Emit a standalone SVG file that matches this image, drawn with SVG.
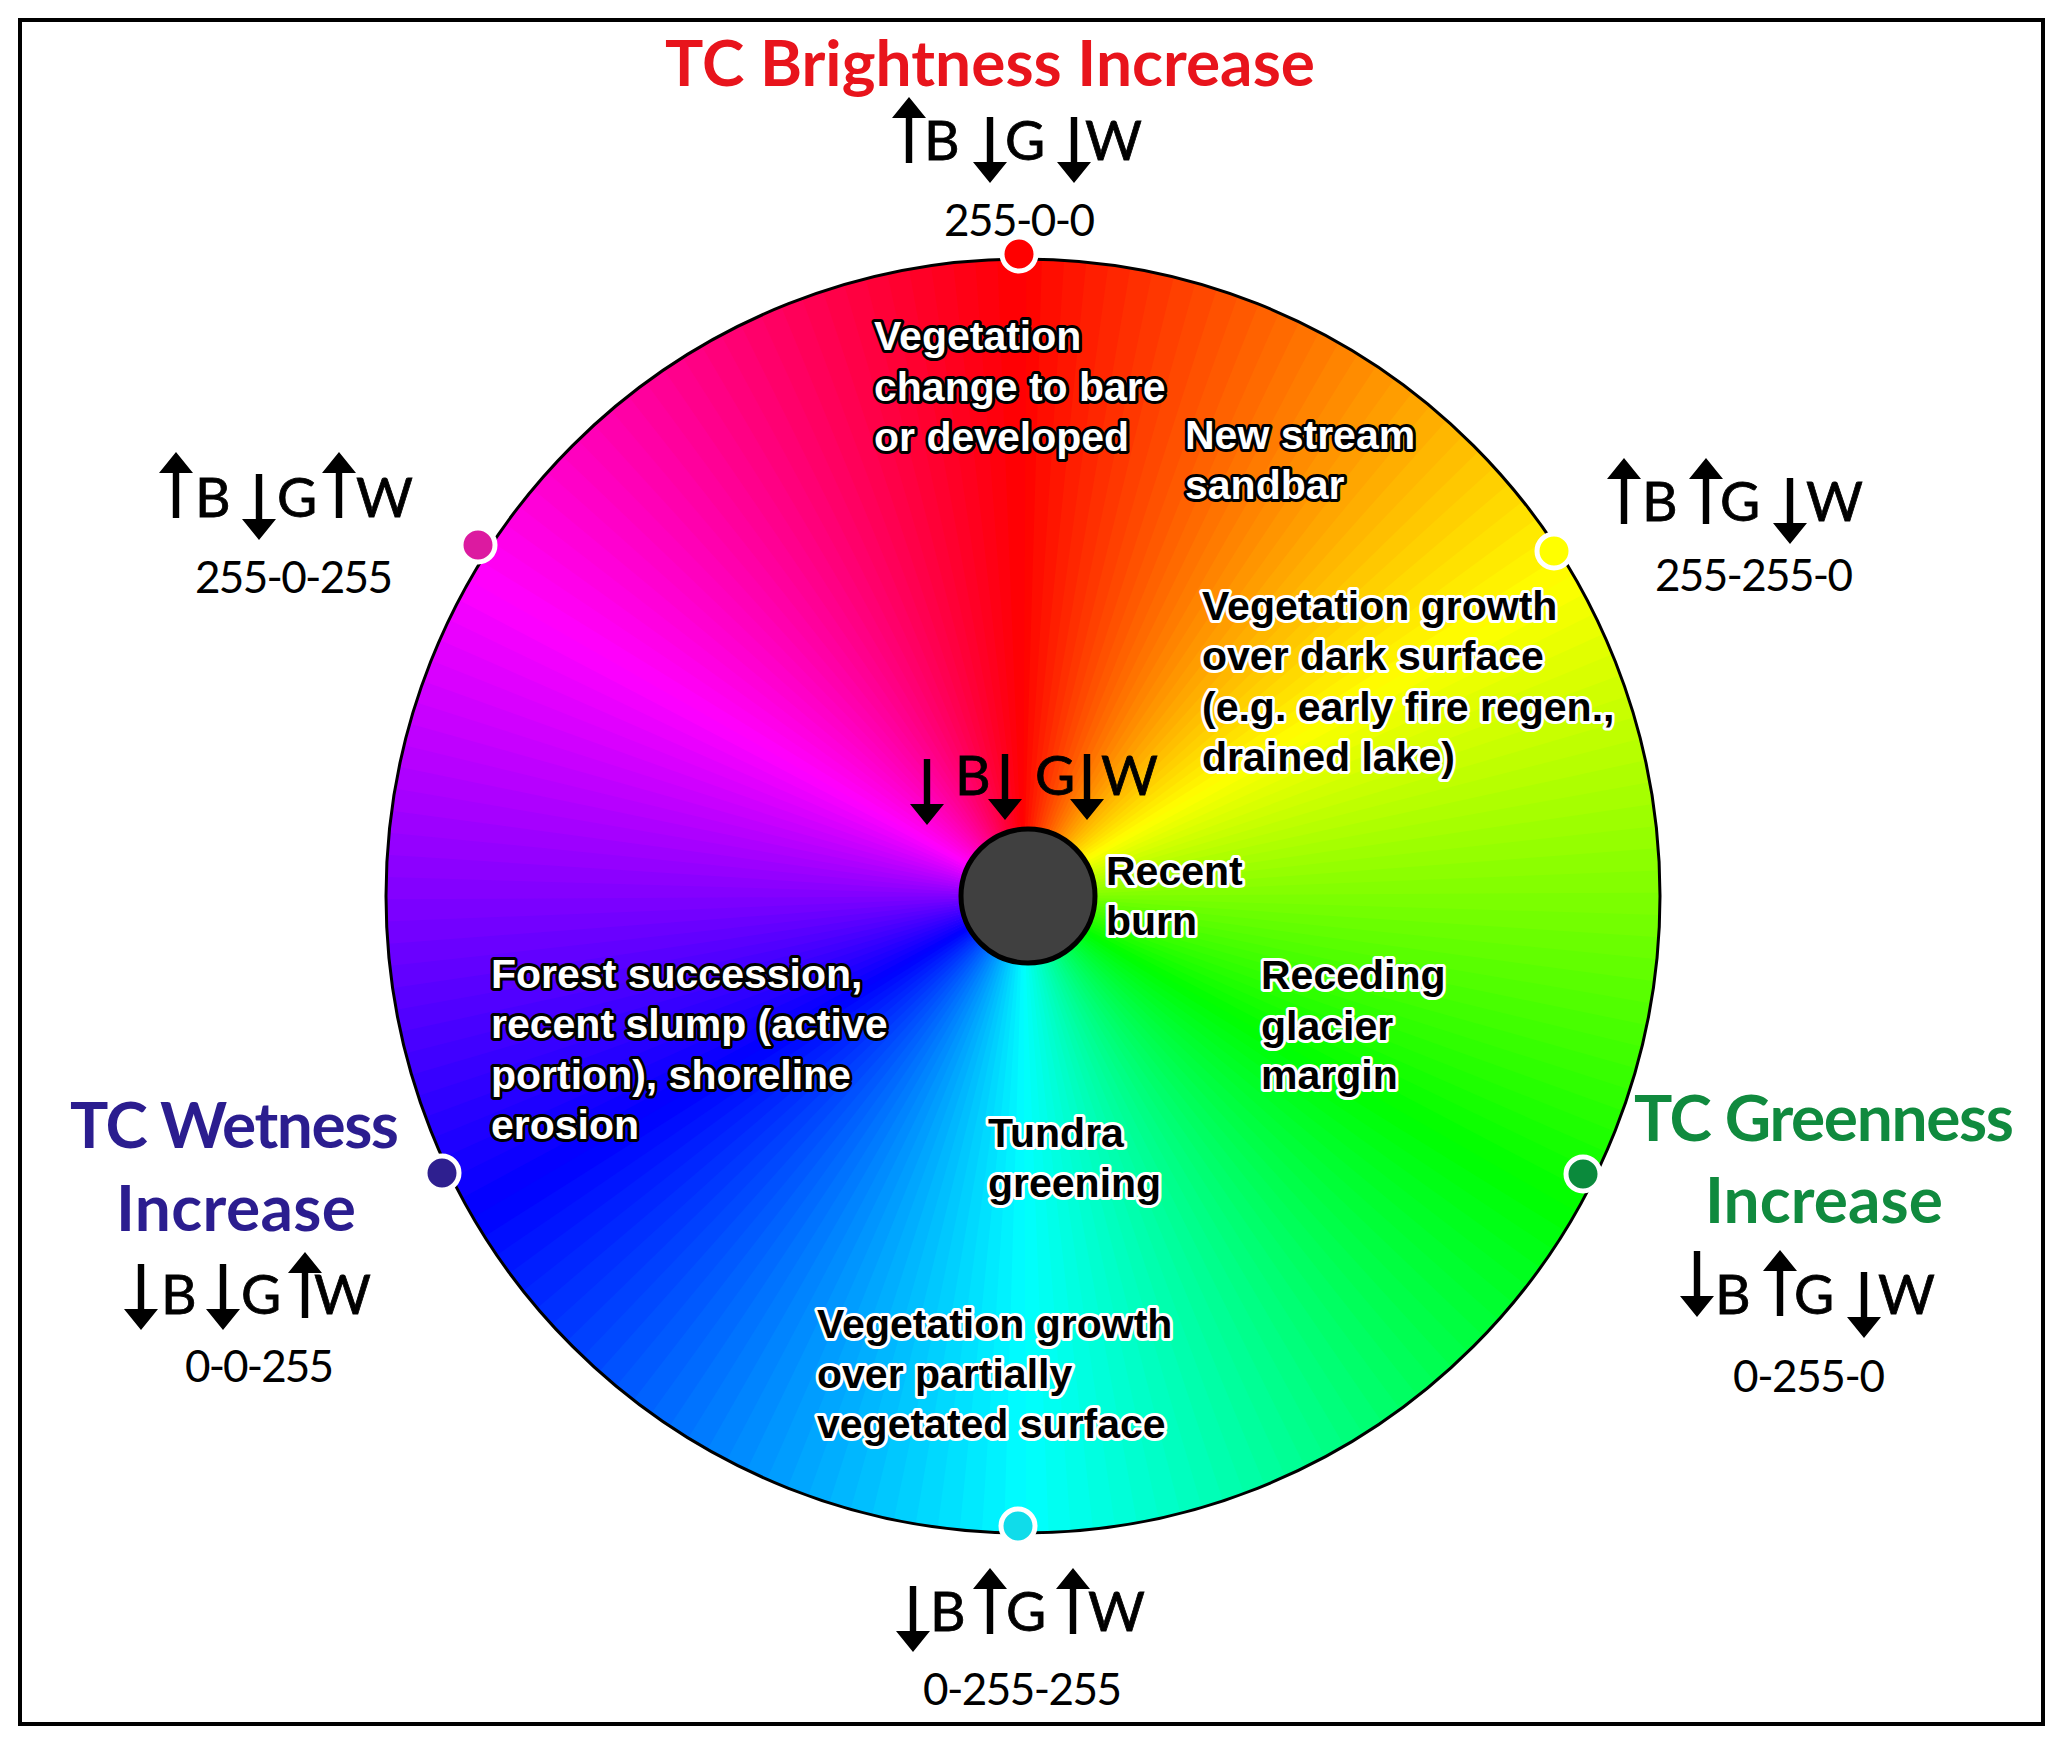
<svg xmlns="http://www.w3.org/2000/svg" xmlns:xlink="http://www.w3.org/1999/xlink" width="2067" height="1746" viewBox="0 0 2067 1746">
<style>
.ttl{font-family:Lato,"Open Sans",sans-serif;font-weight:700;font-size:64px}
.let{font-family:Lato,"Open Sans",sans-serif;font-size:55px;fill:#000;stroke:#000;stroke-width:0.8}
.num{font-family:Lato,"Open Sans",sans-serif;font-size:44px;fill:#000}
.lw{font-family:"Liberation Sans",Arial,sans-serif;font-weight:700;font-size:41px;fill:#fff;stroke:#000;stroke-width:6;paint-order:stroke;stroke-linejoin:round}
.lb{font-family:"Liberation Sans",Arial,sans-serif;font-weight:700;font-size:41px;fill:#000;stroke:#fff;stroke-width:6;paint-order:stroke;stroke-linejoin:round}
.dot{stroke:#fff;stroke-width:5}
</style>
<defs>
<path id="w" d="M0 0L-3.4 -645L25.9 -644.5Z"/>
<path id="up" d="M0 0L17 21H3.2V66H-3.2V21H-17Z"/>
<path id="dn" d="M0 0L17 -21H3.2V-66H-3.2V-21H-17Z"/>
<clipPath id="cc"><circle cx="0" cy="0" r="637"/></clipPath>
</defs>
<rect x="0" y="0" width="2067" height="1746" fill="#fff"/>
<rect x="20" y="20" width="2023" height="1704" fill="none" stroke="#000" stroke-width="4"/>
<g id="wheel">
<g transform="translate(1023 896)" clip-path="url(#cc)">
<use href="#w" fill="#ff0400"/><use href="#w" transform="rotate(2)" fill="#ff0d00"/><use href="#w" transform="rotate(4)" fill="#ff1500"/><use href="#w" transform="rotate(6)" fill="#ff1e00"/><use href="#w" transform="rotate(8)" fill="#ff2600"/><use href="#w" transform="rotate(10)" fill="#ff2f00"/><use href="#w" transform="rotate(12)" fill="#ff3700"/><use href="#w" transform="rotate(14)" fill="#ff4000"/><use href="#w" transform="rotate(16)" fill="#ff4800"/><use href="#w" transform="rotate(18)" fill="#ff5100"/>
<use href="#w" transform="rotate(20)" fill="#ff5900"/><use href="#w" transform="rotate(22)" fill="#ff6200"/><use href="#w" transform="rotate(24)" fill="#ff6a00"/><use href="#w" transform="rotate(26)" fill="#ff7300"/><use href="#w" transform="rotate(28)" fill="#ff7b00"/><use href="#w" transform="rotate(30)" fill="#ff8400"/><use href="#w" transform="rotate(32)" fill="#ff8c00"/><use href="#w" transform="rotate(34)" fill="#ff9500"/><use href="#w" transform="rotate(36)" fill="#ff9d00"/><use href="#w" transform="rotate(38)" fill="#ffa600"/>
<use href="#w" transform="rotate(40)" fill="#ffae00"/><use href="#w" transform="rotate(42)" fill="#ffb700"/><use href="#w" transform="rotate(44)" fill="#ffbf00"/><use href="#w" transform="rotate(46)" fill="#ffc800"/><use href="#w" transform="rotate(48)" fill="#ffd000"/><use href="#w" transform="rotate(50)" fill="#ffd900"/><use href="#w" transform="rotate(52)" fill="#ffe100"/><use href="#w" transform="rotate(54)" fill="#ffea00"/><use href="#w" transform="rotate(56)" fill="#fff200"/><use href="#w" transform="rotate(58)" fill="#fffb00"/>
<use href="#w" transform="rotate(60)" fill="#fbff00"/><use href="#w" transform="rotate(62)" fill="#f2ff00"/><use href="#w" transform="rotate(64)" fill="#eaff00"/><use href="#w" transform="rotate(66)" fill="#e1ff00"/><use href="#w" transform="rotate(68)" fill="#d9ff00"/><use href="#w" transform="rotate(70)" fill="#d0ff00"/><use href="#w" transform="rotate(72)" fill="#c8ff00"/><use href="#w" transform="rotate(74)" fill="#bfff00"/><use href="#w" transform="rotate(76)" fill="#b7ff00"/><use href="#w" transform="rotate(78)" fill="#aeff00"/>
<use href="#w" transform="rotate(80)" fill="#a6ff00"/><use href="#w" transform="rotate(82)" fill="#9dff00"/><use href="#w" transform="rotate(84)" fill="#95ff00"/><use href="#w" transform="rotate(86)" fill="#8cff00"/><use href="#w" transform="rotate(88)" fill="#84ff00"/><use href="#w" transform="rotate(90)" fill="#7bff00"/><use href="#w" transform="rotate(92)" fill="#73ff00"/><use href="#w" transform="rotate(94)" fill="#6aff00"/><use href="#w" transform="rotate(96)" fill="#62ff00"/><use href="#w" transform="rotate(98)" fill="#59ff00"/>
<use href="#w" transform="rotate(100)" fill="#51ff00"/><use href="#w" transform="rotate(102)" fill="#48ff00"/><use href="#w" transform="rotate(104)" fill="#40ff00"/><use href="#w" transform="rotate(106)" fill="#37ff00"/><use href="#w" transform="rotate(108)" fill="#2fff00"/><use href="#w" transform="rotate(110)" fill="#26ff00"/><use href="#w" transform="rotate(112)" fill="#1eff00"/><use href="#w" transform="rotate(114)" fill="#15ff00"/><use href="#w" transform="rotate(116)" fill="#0dff00"/><use href="#w" transform="rotate(118)" fill="#04ff00"/>
<use href="#w" transform="rotate(120)" fill="#00ff04"/><use href="#w" transform="rotate(122)" fill="#00ff0d"/><use href="#w" transform="rotate(124)" fill="#00ff15"/><use href="#w" transform="rotate(126)" fill="#00ff1e"/><use href="#w" transform="rotate(128)" fill="#00ff26"/><use href="#w" transform="rotate(130)" fill="#00ff2f"/><use href="#w" transform="rotate(132)" fill="#00ff37"/><use href="#w" transform="rotate(134)" fill="#00ff40"/><use href="#w" transform="rotate(136)" fill="#00ff48"/><use href="#w" transform="rotate(138)" fill="#00ff51"/>
<use href="#w" transform="rotate(140)" fill="#00ff59"/><use href="#w" transform="rotate(142)" fill="#00ff62"/><use href="#w" transform="rotate(144)" fill="#00ff6a"/><use href="#w" transform="rotate(146)" fill="#00ff73"/><use href="#w" transform="rotate(148)" fill="#00ff7b"/><use href="#w" transform="rotate(150)" fill="#00ff84"/><use href="#w" transform="rotate(152)" fill="#00ff8c"/><use href="#w" transform="rotate(154)" fill="#00ff95"/><use href="#w" transform="rotate(156)" fill="#00ff9d"/><use href="#w" transform="rotate(158)" fill="#00ffa6"/>
<use href="#w" transform="rotate(160)" fill="#00ffae"/><use href="#w" transform="rotate(162)" fill="#00ffb7"/><use href="#w" transform="rotate(164)" fill="#00ffbf"/><use href="#w" transform="rotate(166)" fill="#00ffc8"/><use href="#w" transform="rotate(168)" fill="#00ffd0"/><use href="#w" transform="rotate(170)" fill="#00ffd9"/><use href="#w" transform="rotate(172)" fill="#00ffe1"/><use href="#w" transform="rotate(174)" fill="#00ffea"/><use href="#w" transform="rotate(176)" fill="#00fff2"/><use href="#w" transform="rotate(178)" fill="#00fffb"/>
<use href="#w" transform="rotate(180)" fill="#00fbff"/><use href="#w" transform="rotate(182)" fill="#00f2ff"/><use href="#w" transform="rotate(184)" fill="#00eaff"/><use href="#w" transform="rotate(186)" fill="#00e1ff"/><use href="#w" transform="rotate(188)" fill="#00d9ff"/><use href="#w" transform="rotate(190)" fill="#00d0ff"/><use href="#w" transform="rotate(192)" fill="#00c8ff"/><use href="#w" transform="rotate(194)" fill="#00bfff"/><use href="#w" transform="rotate(196)" fill="#00b7ff"/><use href="#w" transform="rotate(198)" fill="#00aeff"/>
<use href="#w" transform="rotate(200)" fill="#00a6ff"/><use href="#w" transform="rotate(202)" fill="#009dff"/><use href="#w" transform="rotate(204)" fill="#0095ff"/><use href="#w" transform="rotate(206)" fill="#008cff"/><use href="#w" transform="rotate(208)" fill="#0084ff"/><use href="#w" transform="rotate(210)" fill="#007bff"/><use href="#w" transform="rotate(212)" fill="#0073ff"/><use href="#w" transform="rotate(214)" fill="#006aff"/><use href="#w" transform="rotate(216)" fill="#0062ff"/><use href="#w" transform="rotate(218)" fill="#0059ff"/>
<use href="#w" transform="rotate(220)" fill="#0051ff"/><use href="#w" transform="rotate(222)" fill="#0048ff"/><use href="#w" transform="rotate(224)" fill="#0040ff"/><use href="#w" transform="rotate(226)" fill="#0037ff"/><use href="#w" transform="rotate(228)" fill="#002fff"/><use href="#w" transform="rotate(230)" fill="#0026ff"/><use href="#w" transform="rotate(232)" fill="#001eff"/><use href="#w" transform="rotate(234)" fill="#0015ff"/><use href="#w" transform="rotate(236)" fill="#000dff"/><use href="#w" transform="rotate(238)" fill="#0004ff"/>
<use href="#w" transform="rotate(240)" fill="#0400ff"/><use href="#w" transform="rotate(242)" fill="#0d00ff"/><use href="#w" transform="rotate(244)" fill="#1500ff"/><use href="#w" transform="rotate(246)" fill="#1e00ff"/><use href="#w" transform="rotate(248)" fill="#2600ff"/><use href="#w" transform="rotate(250)" fill="#2f00ff"/><use href="#w" transform="rotate(252)" fill="#3700ff"/><use href="#w" transform="rotate(254)" fill="#4000ff"/><use href="#w" transform="rotate(256)" fill="#4800ff"/><use href="#w" transform="rotate(258)" fill="#5100ff"/>
<use href="#w" transform="rotate(260)" fill="#5900ff"/><use href="#w" transform="rotate(262)" fill="#6200ff"/><use href="#w" transform="rotate(264)" fill="#6a00ff"/><use href="#w" transform="rotate(266)" fill="#7300ff"/><use href="#w" transform="rotate(268)" fill="#7b00ff"/><use href="#w" transform="rotate(270)" fill="#8400ff"/><use href="#w" transform="rotate(272)" fill="#8c00ff"/><use href="#w" transform="rotate(274)" fill="#9500ff"/><use href="#w" transform="rotate(276)" fill="#9d00ff"/><use href="#w" transform="rotate(278)" fill="#a600ff"/>
<use href="#w" transform="rotate(280)" fill="#ae00ff"/><use href="#w" transform="rotate(282)" fill="#b700ff"/><use href="#w" transform="rotate(284)" fill="#bf00ff"/><use href="#w" transform="rotate(286)" fill="#c800ff"/><use href="#w" transform="rotate(288)" fill="#d000ff"/><use href="#w" transform="rotate(290)" fill="#d900ff"/><use href="#w" transform="rotate(292)" fill="#e100ff"/><use href="#w" transform="rotate(294)" fill="#ea00ff"/><use href="#w" transform="rotate(296)" fill="#f200ff"/><use href="#w" transform="rotate(298)" fill="#fb00ff"/>
<use href="#w" transform="rotate(300)" fill="#ff00fb"/><use href="#w" transform="rotate(302)" fill="#ff00f2"/><use href="#w" transform="rotate(304)" fill="#ff00ea"/><use href="#w" transform="rotate(306)" fill="#ff00e1"/><use href="#w" transform="rotate(308)" fill="#ff00d9"/><use href="#w" transform="rotate(310)" fill="#ff00d0"/><use href="#w" transform="rotate(312)" fill="#ff00c8"/><use href="#w" transform="rotate(314)" fill="#ff00bf"/><use href="#w" transform="rotate(316)" fill="#ff00b7"/><use href="#w" transform="rotate(318)" fill="#ff00ae"/>
<use href="#w" transform="rotate(320)" fill="#ff00a6"/><use href="#w" transform="rotate(322)" fill="#ff009d"/><use href="#w" transform="rotate(324)" fill="#ff0095"/><use href="#w" transform="rotate(326)" fill="#ff008c"/><use href="#w" transform="rotate(328)" fill="#ff0084"/><use href="#w" transform="rotate(330)" fill="#ff007b"/><use href="#w" transform="rotate(332)" fill="#ff0073"/><use href="#w" transform="rotate(334)" fill="#ff006a"/><use href="#w" transform="rotate(336)" fill="#ff0062"/><use href="#w" transform="rotate(338)" fill="#ff0059"/>
<use href="#w" transform="rotate(340)" fill="#ff0051"/><use href="#w" transform="rotate(342)" fill="#ff0048"/><use href="#w" transform="rotate(344)" fill="#ff0040"/><use href="#w" transform="rotate(346)" fill="#ff0037"/><use href="#w" transform="rotate(348)" fill="#ff002f"/><use href="#w" transform="rotate(350)" fill="#ff0026"/><use href="#w" transform="rotate(352)" fill="#ff001e"/><use href="#w" transform="rotate(354)" fill="#ff0015"/><use href="#w" transform="rotate(356)" fill="#ff000d"/><use href="#w" transform="rotate(358)" fill="#ff0004"/>
</g>
<circle cx="1023" cy="896" r="637" fill="none" stroke="#000" stroke-width="3"/>
</g>
<g id="center-disc"><circle cx="1028" cy="896" r="67" fill="#404040" stroke="#000" stroke-width="5"/></g>
<g id="dots">
<circle class="dot" cx="1019" cy="254" r="17" fill="#ff0000"/>
<circle class="dot" cx="1554" cy="551" r="17" fill="#ffff00"/>
<circle class="dot" cx="1583" cy="1174" r="17" fill="#0b8a3c"/>
<circle class="dot" cx="1018" cy="1526" r="17" fill="#10dcea"/>
<circle class="dot" cx="442" cy="1173" r="17" fill="#2e1f8f"/>
<circle class="dot" cx="478" cy="545" r="17" fill="#dc1aa0"/>
</g>
<g id="brightness">
<text class="ttl" x="665" y="86" fill="#e8141c" textLength="650">TC Brightness Increase</text>
<use href="#up" x="909" y="97"/><text class="let" x="924" y="160">B</text>
<use href="#dn" x="990" y="183"/><text class="let" x="1005" y="160">G</text>
<use href="#dn" x="1074" y="183"/><text class="let" x="1085" y="160">W</text>
<text class="num" x="944" y="236" textLength="151">255-0-0</text>
</g>
<g id="magenta">
<use href="#up" x="176" y="452"/><text class="let" x="195" y="517">B</text>
<use href="#dn" x="259" y="540"/><text class="let" x="277" y="517">G</text>
<use href="#up" x="339" y="452"/><text class="let" x="356" y="517">W</text>
<text class="num" x="195" y="593" textLength="198">255-0-255</text>
</g>
<g id="yellow">
<use href="#up" x="1624" y="458"/><text class="let" x="1642" y="521">B</text>
<use href="#up" x="1706" y="458"/><text class="let" x="1720" y="521">G</text>
<use href="#dn" x="1790" y="544"/><text class="let" x="1806" y="521">W</text>
<text class="num" x="1655" y="591" textLength="198">255-255-0</text>
</g>
<g id="wetness">
<text class="ttl" x="70" y="1148" fill="#2b1d8f" textLength="329">TC Wetness</text>
<text class="ttl" x="116" y="1231" fill="#2b1d8f" textLength="240">Increase</text>
<use href="#dn" x="141" y="1330"/><text class="let" x="161" y="1314">B</text>
<use href="#dn" x="223" y="1330"/><text class="let" x="241" y="1314">G</text>
<use href="#up" x="305" y="1252"/><text class="let" x="314" y="1314">W</text>
<text class="num" x="185" y="1382" textLength="149">0-0-255</text>
</g>
<g id="greenness">
<text class="ttl" x="1634" y="1141" fill="#108a3e" textLength="380">TC Greenness</text>
<text class="ttl" x="1705" y="1223" fill="#108a3e" textLength="238">Increase</text>
<use href="#dn" x="1697" y="1317"/><text class="let" x="1715" y="1314">B</text>
<use href="#up" x="1780" y="1250"/><text class="let" x="1794" y="1314">G</text>
<use href="#dn" x="1864" y="1338"/><text class="let" x="1878" y="1314">W</text>
<text class="num" x="1733" y="1392" textLength="152">0-255-0</text>
</g>
<g id="cyan">
<use href="#dn" x="913" y="1652"/><text class="let" x="930" y="1631">B</text>
<use href="#up" x="990" y="1568"/><text class="let" x="1006" y="1631">G</text>
<use href="#up" x="1073" y="1568"/><text class="let" x="1088" y="1631">W</text>
<text class="num" x="923" y="1705" textLength="199">0-255-255</text>
</g>
<g id="center-change">
<use href="#dn" x="927" y="825"/><text class="let" x="955" y="795">B</text>
<use href="#dn" x="1005" y="820"/><text class="let" x="1035" y="795">G</text>
<use href="#dn" x="1087" y="820"/><text class="let" x="1101" y="795">W</text>
</g>
<g id="label-bare">
<text class="lw" x="874" y="350">Vegetation</text>
<text class="lw" x="874" y="401">change to bare</text>
<text class="lw" x="874" y="451">or developed</text>
</g>
<g id="label-sandbar">
<text class="lw" x="1185" y="449">New stream</text>
<text class="lw" x="1185" y="499">sandbar</text>
</g>
<g id="label-dark">
<text class="lb" x="1202" y="620">Vegetation growth</text>
<text class="lb" x="1202" y="670">over dark surface</text>
<text class="lb" x="1202" y="721">(e.g. early fire regen.,</text>
<text class="lb" x="1202" y="771">drained lake)</text>
</g>
<g id="label-burn">
<text class="lb" x="1106" y="885">Recent</text>
<text class="lb" x="1106" y="935">burn</text>
</g>
<g id="label-glacier">
<text class="lb" x="1261" y="989">Receding</text>
<text class="lb" x="1261" y="1040">glacier</text>
<text class="lb" x="1261" y="1089">margin</text>
</g>
<g id="label-forest">
<text class="lw" x="491" y="988">Forest succession,</text>
<text class="lw" x="491" y="1038">recent slump (active</text>
<text class="lw" x="491" y="1089">portion), shoreline</text>
<text class="lw" x="491" y="1139">erosion</text>
</g>
<g id="label-tundra">
<text class="lb" x="988" y="1147">Tundra</text>
<text class="lb" x="988" y="1197">greening</text>
</g>
<g id="label-partial">
<text class="lb" x="817" y="1338">Vegetation growth</text>
<text class="lb" x="817" y="1388">over partially</text>
<text class="lb" x="817" y="1438">vegetated surface</text>
</g>
<g id="connectors"></g>
</svg>
